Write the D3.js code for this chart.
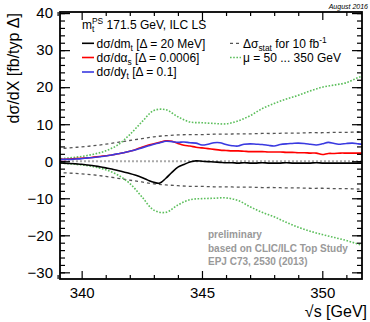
<!DOCTYPE html>
<html>
<head>
<meta charset="utf-8">
<script src="https://cdn.jsdelivr.net/npm/d3@7"></script>
<style>
  body { margin: 0; background: #fff; }
  svg { display: block; font-family: "Liberation Sans", Arial, Helvetica, sans-serif; }
</style>
</head>
<body>
<svg id="chart" width="370" height="322"></svg>
<script>
// centre-of-mass energies (GeV) of the sampled points
const energies = [339.0, 339.5, 340.0, 340.5, 341.0, 341.5, 342.0, 342.5, 343.0, 343.5, 344.0, 344.5, 345.0,
  345.5, 346.0, 346.5, 347.0, 347.5, 348.0, 348.5, 349.0, 349.5, 350.0, 350.5, 351.0, 351.5, 352.0];
const energiesFine = [339.0, 339.25, 339.5, 339.75, 340.0, 340.25, 340.5, 340.75, 341.0, 341.25, 341.5, 341.75,
  342.0, 342.25, 342.5, 342.75, 343.0, 343.25, 343.5, 343.75, 344.0, 344.25, 344.5, 344.75, 345.0, 345.25,
  345.5, 345.75, 346.0, 346.25, 346.5, 346.75, 347.0, 347.25, 347.5, 347.75, 348.0, 348.25, 348.5, 348.75,
  349.0, 349.25, 349.5, 349.75, 350.0, 350.25, 350.5, 350.75, 351.0, 351.25, 351.5, 351.75, 352.0];

// dsigma/dX on energiesFine
const dMt = [-0.4, -0.5, -0.6, -0.7, -0.8, -1.0, -1.2, -1.5, -1.8, -2.1, -2.5, -2.9,
  -3.3, -3.8, -4.4, -5.1, -5.7, -5.9, -4.6, -3.0, -1.6, -0.9, -0.2, 0.1, 0.0, -0.1,
  -0.2, -0.3, -0.4, -0.4, -0.5, -0.4, -0.5, -0.5, -0.4, -0.5, -0.5, -0.5, -0.4, -0.5,
  -0.5, -0.5, -0.5, -0.4, -0.5, -0.5, -0.5, -0.5, -0.5, -0.5, -0.5, -0.5, -0.5];
const dAlphaS = [0.5, 0.5, 0.6, 0.7, 0.8, 0.9, 1.1, 1.3, 1.5, 1.7, 2.0, 2.3,
  2.7, 3.2, 3.8, 4.3, 4.7, 5.1, 5.5, 5.4, 4.8, 4.3, 4.1, 3.8, 3.6, 3.4,
  3.2, 3.0, 2.9, 2.8, 2.8, 2.7, 2.6, 2.6, 2.6, 2.5, 2.5, 2.5, 2.4, 2.4,
  2.3, 2.3, 2.2, 2.2, 1.8, 2.1, 2.1, 2.2, 2.2, 2.2, 2.2, 2.2, 2.2];
const dYt = [0.4, 0.5, 0.5, 0.6, 0.7, 0.9, 1.0, 1.2, 1.4, 1.7, 2.0, 2.3,
  2.7, 3.1, 3.6, 4.1, 4.6, 5.0, 5.4, 5.3, 5.1, 5.2, 5.0, 4.9, 4.4, 4.6,
  5.0, 5.0, 4.5, 4.2, 4.1, 4.6, 4.7, 4.6, 4.5, 4.3, 4.1, 4.5, 4.7, 4.8,
  4.9, 4.8, 4.6, 4.4, 4.7, 5.1, 4.8, 4.6, 4.8, 4.9, 4.7, 4.6, 4.6];

// statistical band and scale variation on energies
const statUp = [3.4, 3.6, 3.9, 4.2, 4.6, 5.1, 5.6, 6.1, 6.6, 6.9, 7.1, 7.2, 7.2,
  7.3, 7.3, 7.4, 7.4, 7.5, 7.5, 7.6, 7.6, 7.7, 7.7, 7.8, 7.8, 7.9, 7.9];
const statDown = [-3.1, -3.2, -3.4, -3.7, -4.1, -4.6, -5.1, -5.6, -6.1, -6.4, -6.6, -6.8, -6.8,
  -6.9, -6.9, -7.0, -7.0, -7.1, -7.1, -7.2, -7.2, -7.3, -7.3, -7.4, -7.4, -7.5, -7.5];
const muUp = [0.6, 0.9, 1.3, 1.9, 2.8, 4.4, 7.2, 10.6, 13.7, 13.9, 12.0, 10.6, 10.4,
  10.2, 10.1, 10.9, 12.3, 14.2, 15.6, 16.8, 17.8, 19.0, 20.0, 20.6, 21.2, 22.6, 23.5];
const muDown = [-0.4, -0.7, -1.0, -1.5, -2.3, -3.7, -6.0, -9.6, -13.2, -13.8, -11.8, -10.4, -10.1,
  -10.0, -9.9, -10.6, -12.3, -13.8, -15.0, -16.5, -17.8, -18.9, -19.8, -20.6, -21.4, -22.4, -23.3];

const xTicks = [340, 345, 350];
const xMinorTicks = [339, 341, 342, 343, 344, 346, 347, 348, 349, 351];
const yTicks = [-30, -20, -10, 0, 10, 20, 30, 40];
const yMinorTicks = [-30, -28, -26, -24, -22, -20, -18, -16, -14, -12, -10, -8, -6, -4, -2, 0,
  2, 4, 6, 8, 10, 12, 14, 16, 18, 20, 22, 24, 26, 28, 30, 32, 34, 36, 38, 40];

const frame = {left: 60, right: 362, top: 12, bottom: 279};
const svg = d3.select('#chart');

const x = d3.scaleLinear().domain([339.1, 351.65]).range([frame.left, frame.right]);
const y = d3.scaleLinear().domain([-31.8, 40.3]).range([frame.bottom, frame.top]);

svg.append('clipPath').attr('id', 'plotclip')
  .append('rect')
    .attr('x', frame.left).attr('y', frame.top)
    .attr('width', frame.right - frame.left).attr('height', frame.bottom - frame.top);

const plot = svg.append('g').attr('clip-path', 'url(#plotclip)');

// zero line
plot.append('line')
  .attr('x1', frame.left).attr('x2', frame.right)
  .attr('y1', y(0)).attr('y2', y(0))
  .attr('stroke', '#aaa').attr('stroke-width', 2).attr('stroke-dasharray', '2,2');

function drawSeries(xs, ys, color, width, dash) {
  const line = d3.line()
    .x((d, i) => x(xs[i]))
    .y(d => y(d))
    .curve(d3.curveCatmullRom.alpha(0.5));
  const p = plot.append('path')
    .attr('d', line(ys))
    .attr('fill', 'none')
    .attr('stroke', color)
    .attr('stroke-width', width);
  if (dash) p.attr('stroke-dasharray', dash);
}

drawSeries(energies, statUp, '#555', 1.3, '3,3');
drawSeries(energies, statDown, '#555', 1.3, '3,3');
drawSeries(energies, muUp, '#5cbf5c', 1.6, '1.6,1.6');
drawSeries(energies, muDown, '#5cbf5c', 1.6, '1.6,1.6');
drawSeries(energiesFine, dMt, '#000', 1.6);
drawSeries(energiesFine, dAlphaS, '#ff0000', 1.6);
drawSeries(energiesFine, dYt, '#3a3ae0', 1.6);

// axes (ROOT style: ticks inside, on all four sides)
function styleAxis(g) {
  g.select('.domain').remove();
  g.selectAll('.tick line').attr('stroke', '#000').attr('stroke-width', 1.2);
  g.selectAll('.tick text').attr('font-size', 15).attr('fill', '#000')
    .attr('font-family', '"Liberation Sans", Arial, sans-serif');
}

svg.append('g').attr('transform', `translate(0,${frame.bottom})`)
  .call(d3.axisBottom(x).tickValues(xTicks).tickSize(-8).tickPadding(8).tickFormat(d3.format('d')))
  .call(styleAxis);
svg.append('g').attr('transform', `translate(0,${frame.bottom})`)
  .call(d3.axisBottom(x).tickValues(xMinorTicks).tickSize(-4).tickFormat(''))
  .call(styleAxis);
svg.append('g').attr('transform', `translate(0,${frame.top})`)
  .call(d3.axisTop(x).tickValues(xTicks).tickSize(-8).tickFormat(''))
  .call(styleAxis);
svg.append('g').attr('transform', `translate(0,${frame.top})`)
  .call(d3.axisTop(x).tickValues(xMinorTicks).tickSize(-4).tickFormat(''))
  .call(styleAxis);

svg.append('g').attr('transform', `translate(${frame.left},0)`)
  .call(d3.axisLeft(y).tickValues(yTicks).tickSize(-10).tickPadding(7))
  .call(styleAxis);
svg.append('g').attr('transform', `translate(${frame.left},0)`)
  .call(d3.axisLeft(y).tickValues(yMinorTicks).tickSize(-5).tickFormat(''))
  .call(styleAxis);
svg.append('g').attr('transform', `translate(${frame.right},0)`)
  .call(d3.axisRight(y).tickValues(yTicks).tickSize(-10).tickFormat(''))
  .call(styleAxis);
svg.append('g').attr('transform', `translate(${frame.right},0)`)
  .call(d3.axisRight(y).tickValues(yMinorTicks).tickSize(-5).tickFormat(''))
  .call(styleAxis);

svg.append('rect')
  .attr('x', frame.left).attr('y', frame.top)
  .attr('width', frame.right - frame.left).attr('height', frame.bottom - frame.top)
  .attr('fill', 'none').attr('stroke', '#000').attr('stroke-width', 1.8);

// text with sub/superscripts: parts = [[text, ''|'sub'|'sup', dx]]
function rich(px, py, parts, fs, anchor) {
  const t = svg.append('text').attr('x', px).attr('y', py)
    .attr('font-size', fs).attr('fill', '#000');
  if (anchor) t.attr('text-anchor', anchor);
  let cur = 0;
  parts.forEach(([s, mode, dx]) => {
    const off = mode === 'sub' ? 0.25 * fs : mode === 'sup' ? -0.42 * fs : 0;
    const ts = t.append('tspan').attr('dy', off - cur).text(s);
    if (mode) ts.attr('font-size', fs * 0.7);
    if (dx) ts.attr('dx', dx);
    cur = off;
  });
  return t;
}

// axis titles
svg.append('text')
  .attr('transform', 'translate(19,13) rotate(-90)')
  .attr('text-anchor', 'end')
  .attr('font-size', 16)
  .text('dσ/dX [fb/typ Δ]');
svg.append('text')
  .attr('x', 367).attr('y', 317)
  .attr('text-anchor', 'end')
  .attr('font-size', 16)
  .text('√s [GeV]');

// legend
rich(82, 29.3, [['m', ''], ['t', 'sub'], ['PS', 'sup', -2.3], [' 171.5 GeV, ILC LS', '']], 12);

const legendLeft = [
  {color: '#000', parts: [['dσ/dm', ''], ['t', 'sub'], [' [Δ = 20 MeV]', '']]},
  {color: '#ff0000', parts: [['dσ/dα', ''], ['s', 'sub'], [' [Δ = 0.0006]', '']]},
  {color: '#3a3ae0', parts: [['dσ/dy', ''], ['t', 'sub'], [' [Δ = 0.1]', '']]}
];
const rowY = [43.3, 57.5, 72];
legendLeft.forEach((e, i) => {
  svg.append('line').attr('x1', 82).attr('x2', 94).attr('y1', rowY[i]).attr('y2', rowY[i])
    .attr('stroke', e.color).attr('stroke-width', 1.6);
  rich(96.5, rowY[i] + 4.3, e.parts, 12);
});

const legendRight = [
  {color: '#555', dash: '3,3', width: 1.3, parts: [['Δσ', ''], ['stat', 'sub'], [' for 10 fb', ''], ['-1', 'sup']]},
  {color: '#5cbf5c', dash: '1.6,1.6', width: 1.6, parts: [['μ = 50 ... 350 GeV', '']]}
];
legendRight.forEach((e, i) => {
  svg.append('line').attr('x1', 230).attr('x2', 241).attr('y1', rowY[i]).attr('y2', rowY[i])
    .attr('stroke', e.color).attr('stroke-width', e.width).attr('stroke-dasharray', e.dash);
  rich(243, rowY[i] + 4.3, e.parts, 12);
});

// date stamp
svg.append('text')
  .attr('x', 368).attr('y', 8.5)
  .attr('text-anchor', 'end')
  .attr('font-size', 7).attr('font-style', 'italic')
  .text('August 2016');

// preliminary note
const note = ['preliminary', 'based on CLIC/ILC Top Study', 'EPJ C73, 2530 (2013)'];
const noteY = [238, 251.7, 265.3];
note.forEach((s, i) => {
  svg.append('text')
    .attr('x', 208).attr('y', noteY[i])
    .attr('font-size', 10).attr('font-weight', 'bold').attr('fill', '#999')
    .text(s);
});
</script>
</body>
</html>
